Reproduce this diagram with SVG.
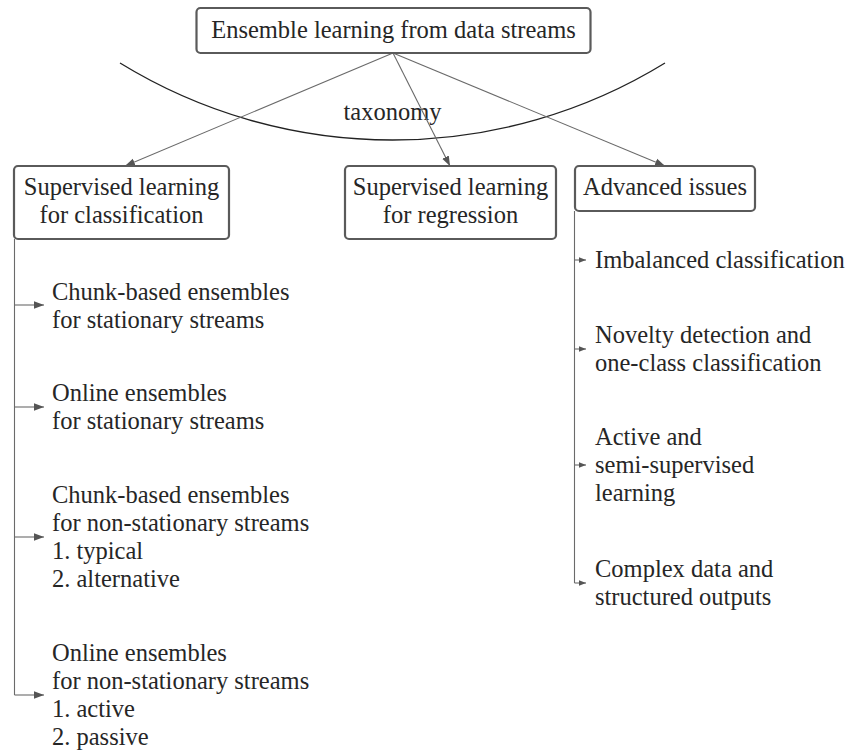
<svg xmlns="http://www.w3.org/2000/svg" width="845" height="751" viewBox="0 0 845 751">
<style>
  .box { fill: #ffffff; stroke: #5a5a5a; stroke-width: 2.2; }
  .t { font-family: "Liberation Serif", "Times New Roman", serif; font-size: 24.5px; fill: #262626; }
  .c { text-anchor: middle; }
  .conn { fill: none; stroke: #6a6a6a; stroke-width: 1.1; }
  .arc { fill: none; stroke: #222222; stroke-width: 1.3; }
</style>
<defs>
  <marker id="ah" markerUnits="userSpaceOnUse" markerWidth="11" markerHeight="9" refX="10" refY="4.5" orient="auto">
    <path d="M0,0.8 L10,4.5 L0,8.2 Z" fill="#555555"/>
  </marker>
  <marker id="ahs" markerUnits="userSpaceOnUse" markerWidth="8" markerHeight="7" refX="7.5" refY="3.5" orient="auto">
    <path d="M0,0.5 L7.5,3.5 L0,6.5 Z" fill="#555555"/>
  </marker>
</defs>
<rect width="845" height="751" fill="#ffffff"/>

<g id="taxonomy-arc">
  <path class="arc" d="M120,63 A520.7,520.7 0 0 0 665,63"/>
  <text class="t c" x="392.5" y="120">taxonomy</text>
</g>

<g id="connectors">
  <line class="conn" x1="393" y1="53" x2="125" y2="166" marker-end="url(#ah)"/>
  <line class="conn" x1="393" y1="53" x2="450" y2="166" marker-end="url(#ah)"/>
  <line class="conn" x1="393" y1="53" x2="665" y2="166" marker-end="url(#ah)"/>
  <line class="conn" x1="14.5" y1="239" x2="14.5" y2="695"/>
  <line class="conn" x1="14.5" y1="305" x2="44" y2="305" marker-end="url(#ah)"/>
  <line class="conn" x1="14.5" y1="407" x2="44" y2="407" marker-end="url(#ah)"/>
  <line class="conn" x1="14.5" y1="537" x2="44" y2="537" marker-end="url(#ah)"/>
  <line class="conn" x1="14.5" y1="695" x2="44" y2="695" marker-end="url(#ah)"/>
  <line class="conn" x1="574.5" y1="211" x2="574.5" y2="583"/>
  <line class="conn" x1="574.5" y1="260" x2="586" y2="260" marker-end="url(#ahs)"/>
  <line class="conn" x1="574.5" y1="349" x2="586" y2="349" marker-end="url(#ahs)"/>
  <line class="conn" x1="574.5" y1="465" x2="586" y2="465" marker-end="url(#ahs)"/>
  <line class="conn" x1="574.5" y1="583" x2="586" y2="583" marker-end="url(#ahs)"/>
</g>

<g id="root">
  <rect class="box" x="196.5" y="8" width="394" height="45" rx="4"/>
  <text class="t c" x="393.5" y="38">Ensemble learning from data streams</text>
</g>

<g id="supervised-classification">
  <rect class="box" x="14" y="166" width="215" height="73" rx="4"/>
  <text class="t c" x="121.5" y="195">Supervised learning</text>
  <text class="t c" x="121.5" y="223">for classification</text>
</g>

<g id="supervised-regression">
  <rect class="box" x="345" y="166" width="211" height="73" rx="4"/>
  <text class="t c" x="450.5" y="195">Supervised learning</text>
  <text class="t c" x="450.5" y="223">for regression</text>
</g>

<g id="advanced-issues">
  <rect class="box" x="575" y="166" width="180" height="45" rx="4"/>
  <text class="t c" x="665" y="195">Advanced issues</text>
</g>

<g id="chunk-stationary">
  <text class="t" x="52" y="300">Chunk-based ensembles</text>
  <text class="t" x="52" y="328">for stationary streams</text>
</g>
<g id="online-stationary">
  <text class="t" x="52" y="401">Online ensembles</text>
  <text class="t" x="52" y="429">for stationary streams</text>
</g>
<g id="chunk-nonstationary">
  <text class="t" x="52" y="503">Chunk-based ensembles</text>
  <text class="t" x="52" y="531">for non-stationary streams</text>
  <text class="t" x="52" y="559">1. typical</text>
  <text class="t" x="52" y="587">2. alternative</text>
</g>
<g id="online-nonstationary">
  <text class="t" x="52" y="661">Online ensembles</text>
  <text class="t" x="52" y="689">for non-stationary streams</text>
  <text class="t" x="52" y="717">1. active</text>
  <text class="t" x="52" y="745">2. passive</text>
</g>

<g id="imbalanced">
  <text class="t" x="595" y="268">Imbalanced classification</text>
</g>
<g id="novelty">
  <text class="t" x="595" y="343">Novelty detection and</text>
  <text class="t" x="595" y="371">one-class classification</text>
</g>
<g id="active-semi">
  <text class="t" x="595" y="445">Active and</text>
  <text class="t" x="595" y="473">semi-supervised</text>
  <text class="t" x="595" y="501">learning</text>
</g>
<g id="complex-data">
  <text class="t" x="595" y="577">Complex data and</text>
  <text class="t" x="595" y="605">structured outputs</text>
</g>
</svg>
